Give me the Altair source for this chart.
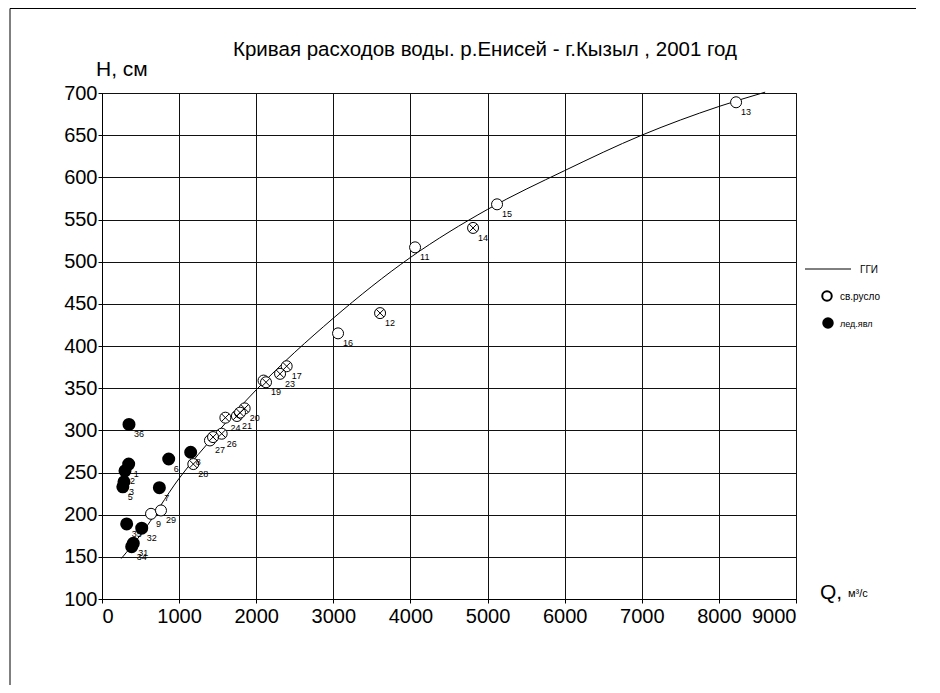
import altair as alt
import pandas as pd

# rating curve (ГГИ)
line_q = [250, 500, 1000, 1500, 2000, 3000, 4000, 5000, 6000, 7000, 8000, 8600]
line_h = [148, 176, 243, 298, 348, 433, 505, 562, 608, 650, 684, 701]

# measured points: open channel (св.русло)
open_lab = ["13", "15", "11", "16", "27", "9", "29", ""]
open_q = [8223, 5123, 4060, 3061, 1400, 636, 765, 2095]
open_h = [689, 568, 517, 415, 288, 201, 205, 359]

# crossed circles
cross_lab = ["14", "12", "17", "23", "19", "20", "21", "", "24", "26", "", "28"]
cross_q = [4812, 3606, 2395, 2309, 2127, 1850, 1750, 1790, 1600, 1552, 1440, 1184]
cross_h = [540, 439, 376, 367, 357, 326, 317, 321, 315, 296, 292, 260]

# ice phenomena (лед.явл)
ice_lab = ["1", "2", "3", "5", "6", "7", "8", "31", "32", "34", "35", "36"]
ice_q = [346, 298, 285, 270, 865, 744, 1150, 406, 515, 385, 320, 350]
ice_h = [260, 252, 239, 233, 266, 232, 274, 166, 184, 162, 189, 307]

x_ticks = list(range(0, 9001, 1000))
y_ticks = list(range(100, 701, 50))

title_text = "Кривая расходов воды. р.Енисей  - г.Кызыл , 2001 год"
legend_names = ["ГГИ", "св.русло", "лед.явл"]

FONT = "Liberation Sans, Arial"

line_df = pd.DataFrame({"Q": line_q, "H": line_h})
open_df = pd.DataFrame({"Q": open_q, "H": open_h, "lab": open_lab})
cross_df = pd.DataFrame({"Q": cross_q, "H": cross_h, "lab": cross_lab})
ice_df = pd.DataFrame({"Q": ice_q, "H": ice_h, "lab": ice_lab})
all_df = pd.concat([open_df, cross_df, ice_df], ignore_index=True)

xs = alt.Scale(domain=[0, 9000], nice=False, zero=False)
ys = alt.Scale(domain=[100, 700], nice=False, zero=False)

x_axis = alt.Axis(values=x_ticks, title=None, grid=True, gridColor="#111", gridOpacity=1,
                  domainColor="black", tickColor="black", tickSize=4, labelPadding=3,
                  labelFont=FONT, labelFontSize=20, labelColor="black", format="d")
y_axis = alt.Axis(values=y_ticks, title=None, grid=True, gridColor="#111", gridOpacity=1,
                  domainColor="black", tickColor="black", tickSize=4, labelPadding=1,
                  labelFont=FONT, labelFontSize=20, labelColor="black", format="d")


def base(df):
    return alt.Chart(df).encode(
        x=alt.X("Q:Q", scale=xs, axis=x_axis),
        y=alt.Y("H:Q", scale=ys, axis=y_axis),
    )


curve = base(line_df).mark_line(color="black", strokeWidth=1, interpolate="monotone")
open_pts = base(open_df).mark_point(shape="circle", size=121, filled=True, fill="white",
                                    stroke="black", strokeWidth=1, opacity=1)
cross_circ = base(cross_df).mark_point(shape="circle", size=121, filled=True, fill="white",
                                       stroke="black", strokeWidth=1, opacity=1)
cross_x = base(cross_df).mark_point(shape="M-0.7,-0.7L0.7,0.7M-0.7,0.7L0.7,-0.7", size=121,
                                    filled=False, stroke="black", strokeWidth=1, opacity=1)
ice_pts = base(ice_df).mark_point(shape="circle", size=121, filled=True, fill="black",
                                  stroke="black", opacity=1)
labels = base(all_df).mark_text(align="left", baseline="middle", dx=5, dy=10, fontSize=9,
                                font=FONT, color="black").encode(text="lab:N")


def deco_text(txt, x, y, size, align="left", font=FONT):
    return alt.Chart(pd.DataFrame({"t": [txt]})).mark_text(
        align=align, baseline="middle", fontSize=size, font=font, color="black"
    ).encode(text="t:N", x=alt.value(x), y=alt.value(y))


title_t = deco_text(title_text, 383, -43, 20.5, align="center")
h_t = deco_text("H, см", -6, -23, 21)
q_t = deco_text("Q,", 718, 500, 21)
q_u = deco_text("м³/с", 746, 501, 11)

leg_line = alt.Chart(pd.DataFrame({"a": [0]})).mark_rule(color="black", strokeWidth=1).encode(
    x=alt.value(703), x2=alt.value(749), y=alt.value(176))
leg_t1 = deco_text(legend_names[0], 758, 177, 10)
leg_open = alt.Chart(pd.DataFrame({"a": [0]})).mark_point(
    shape="circle", size=90, filled=True, fill="white", stroke="black", opacity=1
).encode(x=alt.value(725), y=alt.value(203))
leg_t2 = deco_text(legend_names[1], 738, 204, 10)
leg_ice = alt.Chart(pd.DataFrame({"a": [0]})).mark_point(
    shape="circle", size=90, filled=True, fill="black", stroke="black", opacity=1
).encode(x=alt.value(726), y=alt.value(230))
leg_t3 = deco_text(legend_names[2], 738, 231, 9)

frame_top = alt.Chart(pd.DataFrame({"a": [0]})).mark_rule(color="black", strokeWidth=1).encode(
    x=alt.value(-92), x2=alt.value(830), y=alt.value(-84.5))
frame_left = alt.Chart(pd.DataFrame({"a": [0]})).mark_rule(color="black", strokeWidth=1).encode(
    x=alt.value(-92), y=alt.value(-84.5), y2=alt.value(600))

chart = alt.layer(
    curve, open_pts, cross_circ, cross_x, ice_pts, labels,
    title_t, h_t, q_t, q_u,
    leg_line, leg_t1, leg_open, leg_t2, leg_ice, leg_t3,
    frame_top, frame_left,
).properties(
    width=694, height=506,
    padding={"left": 94, "top": 85, "right": 120, "bottom": 86},
    autosize=alt.AutoSizeParams(type="none"),
    background="white",
).configure_view(stroke="black", strokeWidth=1)

chart.save("out.html", embed_options={"renderer": "svg", "actions": False})
